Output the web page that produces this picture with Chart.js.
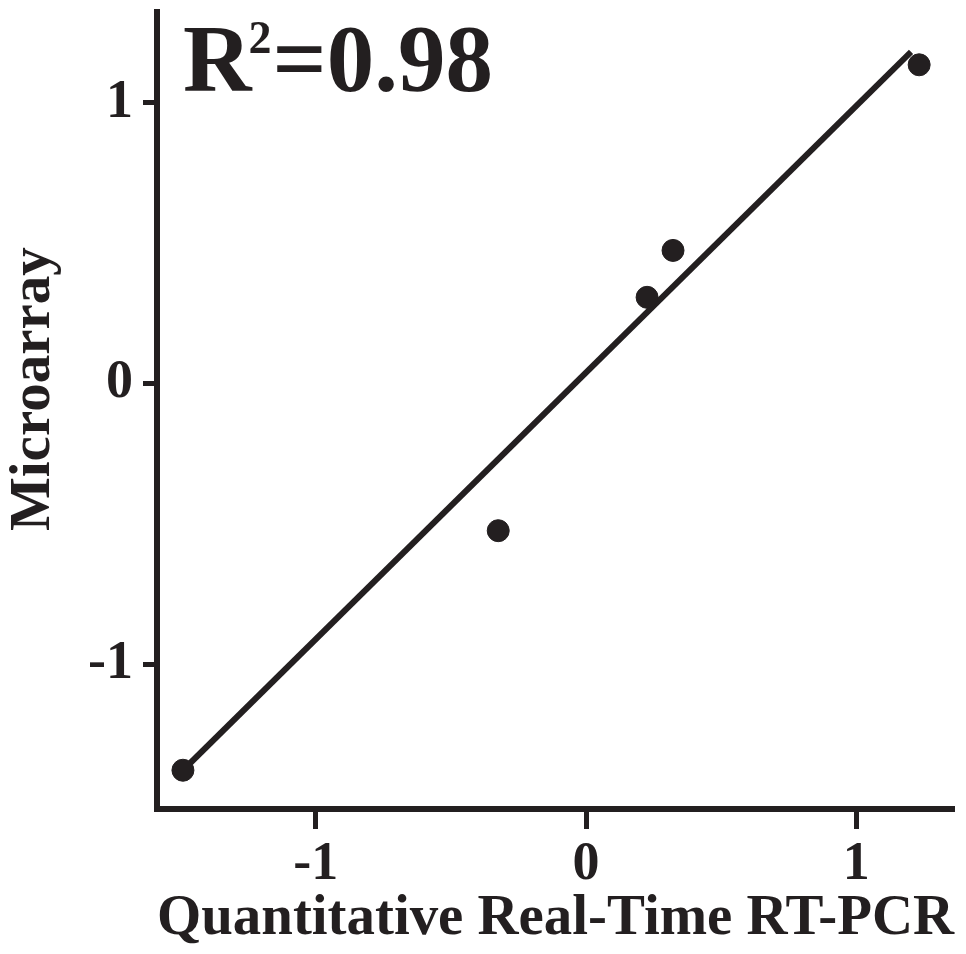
<!DOCTYPE html>
<html>
<head>
<meta charset="utf-8">
<script src="https://cdn.jsdelivr.net/npm/chart.js@4.4.1/dist/chart.umd.min.js"></script>
<style>
    html, body { margin: 0; padding: 0; background: #ffffff; }
    #wrap { width: 966px; height: 954px; }
</style>
</head>
<body>
<div id="wrap"><canvas id="scatter"></canvas></div>
<script>
// values
const pcrValues = [-1.492, -0.325, 0.226, 0.322, 1.233];
const arrayValues = [-1.377, -0.524, 0.307, 0.474, 1.135];
const fitX = [-1.492, 1.203];
const fitY = [-1.377, 1.181];
const tickValues = [-1, 0, 1];
const rSquared = '0.98';

const ink = '#231f20';
const serif = '"Liberation Serif", "Times New Roman", serif';

const points = pcrValues.map((x, i) => ({ x: x, y: arrayValues[i] }));
const fitLine = fitX.map((x, i) => ({ x: x, y: fitY[i] }));

// R² label inside the plot
const rLabel = {
    id: 'rLabel',
    afterDraw(chart) {
        const c = chart.ctx;
        c.save();
        c.fillStyle = ink;
        c.textBaseline = 'alphabetic';
        c.font = 'bold 95px ' + serif;
        let x = 183;
        c.fillText('R', x, 91);
        x += c.measureText('R').width;
        c.font = 'bold 46px ' + serif;
        c.fillText('2', x - 3, 53);
        x += c.measureText('2').width - 2;
        c.font = 'bold 95px ' + serif;
        c.fillText('=' + rSquared, x, 91);
        c.restore();
    }
};

const ctx = document.getElementById('scatter').getContext('2d');
const chart = new Chart(ctx, {
    type: 'scatter',
    data: {
        datasets: [{
            label: 'fit',
            type: 'line',
            data: fitLine,
            borderColor: ink,
            borderWidth: 6,
            pointRadius: 0,
            fill: false,
            order: 2
        }, {
            label: 'genes',
            data: points,
            backgroundColor: ink,
            borderColor: ink,
            pointRadius: 11,
            pointHoverRadius: 11,
            order: 1
        }]
    },
    options: {
        responsive: true,
        maintainAspectRatio: false,
        animation: false,
        layout: {
            padding: { top: 10, right: 11, left: 0, bottom: 0 }
        },
        scales: {
            x: {
                type: 'linear',
                min: -1.588,
                max: 1.362,
                afterBuildTicks: scale => { scale.ticks = tickValues.map(v => ({ value: v })); },
                afterFit: scale => {
                    scale.height = 145;
                    scale.paddingLeft = 0;
                    scale.paddingRight = 0;
                },
                border: { display: true, color: ink, width: 6 },
                grid: {
                    drawOnChartArea: false,
                    drawTicks: true,
                    tickLength: 20,
                    tickWidth: 5,
                    tickColor: ink
                },
                ticks: {
                    color: ink,
                    padding: 4,
                    font: { family: serif, size: 54, weight: 'bold' }
                },
                title: {
                    display: true,
                    text: 'Quantitative Real-Time RT-PCR',
                    color: ink,
                    padding: { top: 0, bottom: 0 },
                    font: { family: serif, size: 58, weight: 'bold' }
                }
            },
            y: {
                type: 'linear',
                min: -1.515,
                max: 1.323,
                afterBuildTicks: scale => { scale.ticks = tickValues.map(v => ({ value: v })); },
                afterFit: scale => {
                    scale.width = 157;
                    scale.paddingTop = 0;
                    scale.paddingBottom = 0;
                },
                border: { display: true, color: ink, width: 6 },
                grid: {
                    drawOnChartArea: false,
                    drawTicks: true,
                    tickLength: 14,
                    tickWidth: 5,
                    tickColor: ink
                },
                ticks: {
                    color: ink,
                    padding: 10,
                    font: { family: serif, size: 54, weight: 'bold' }
                },
                title: {
                    display: true,
                    // leading spaces nudge the rotated title up a little
                    text: '   Microarray',
                    color: ink,
                    padding: { top: 0, bottom: 0 },
                    font: { family: serif, size: 57, weight: 'bold' }
                }
            }
        },
        plugins: {
            legend: { display: false },
            tooltip: { enabled: false }
        }
    },
    plugins: [rLabel]
});
</script>
</body>
</html>
